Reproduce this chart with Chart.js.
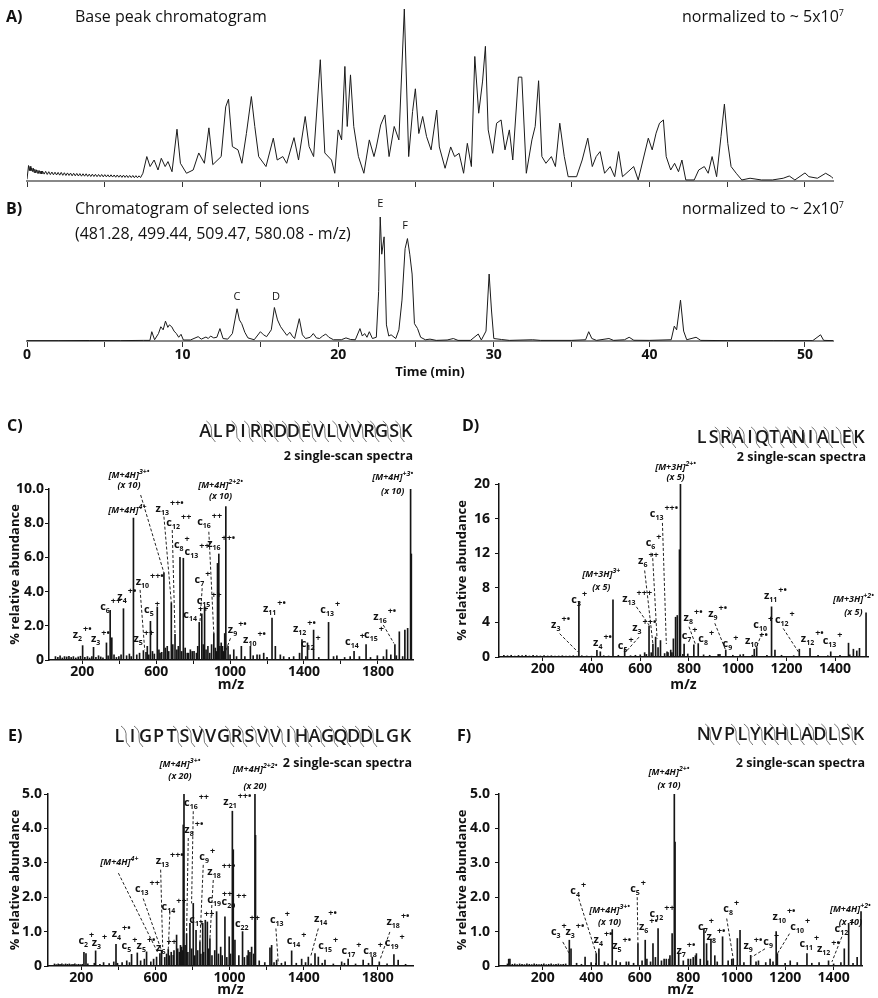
<!DOCTYPE html>
<html>
<head>
<meta charset="utf-8">
<script src="https://cdn.jsdelivr.net/npm/chart.js@4"></script>
<style>
  body { margin: 0; background: #fff; }
  #page { position: relative; width: 878px; height: 998px; overflow: hidden; font-family: "Open Sans", sans-serif; color: #111; }
  canvas { position: absolute; }
  .t { position: absolute; white-space: nowrap; line-height: 1; transform: translateY(-50%); }
  .pl { font-weight: bold; font-size: 16px; }
  .hd { font-size: 16px; }
  .ss { font-weight: bold; font-size: 12.5px; }
  sup { font-size: 9px; }
</style>
</head>
<body>
<div id="page">
  <canvas id="cA" width="878" height="195" style="left:0px;top:0px"></canvas>
  <canvas id="cB" width="878" height="185" style="left:0px;top:195px"></canvas>
  <canvas id="cC" width="440" height="295" style="left:0px;top:400px"></canvas>
  <canvas id="cD" width="438" height="295" style="left:440px;top:400px"></canvas>
  <canvas id="cE" width="440" height="298" style="left:0px;top:700px"></canvas>
  <canvas id="cF" width="438" height="298" style="left:440px;top:700px"></canvas>

  <div class="t pl" style="left:6px;top:16px">A)</div>
  <div class="t hd" style="left:75px;top:16px">Base peak chromatogram</div>
  <div class="t hd" style="right:34px;top:16px">normalized to ~ 5x10<sup>7</sup></div>
  <div class="t pl" style="left:6px;top:208px">B)</div>
  <div class="t hd" style="left:75px;top:208px">Chromatogram of selected ions</div>
  <div class="t hd" style="left:75px;top:233px">(481.28, 499.44, 509.47, 580.08 - m/z)</div>
  <div class="t hd" style="right:34px;top:208px">normalized to ~ 2x10<sup>7</sup></div>

  <div class="t pl" style="left:7px;top:425px">C)</div>
  <div class="t ss" style="right:465px;top:456px">2 single-scan spectra</div>
  <div class="t pl" style="left:462px;top:425px">D)</div>
  <div class="t ss" style="right:12px;top:457px">2 single-scan spectra</div>
  <div class="t pl" style="left:8px;top:735px">E)</div>
  <div class="t ss" style="right:466px;top:763px">2 single-scan spectra</div>
  <div class="t pl" style="left:457px;top:735px">F)</div>
  <div class="t ss" style="right:13px;top:763px">2 single-scan spectra</div>
</div>

<script>
const FONT = '"Open Sans", sans-serif';
Chart.defaults.font.family = FONT;
Chart.defaults.color = "#111";

// ---- chromatograms: [time (min), % of max] ----
const timeTicks = [0, 5, 10, 15, 20, 25, 30, 35, 40, 45, 50];

const aEarly = [
  [0.0, 1], [0.1, 9], [0.15, 6], [0.2, 8.5], [0.25, 6], [0.3, 7.5], [0.35, 5.5], [0.4, 7.5], [0.45, 5], [0.5, 6.8],
  [0.55, 4.8], [0.6, 6.5], [0.65, 4.6], [0.7, 6.2], [0.75, 4.4], [0.8, 6], [0.85, 4.2], [0.9, 5.8], [0.95, 4.1],
  [1.0, 5.7], [1.1, 4], [1.2, 5.6], [1.3, 3.8], [1.4, 5.4], [1.5, 3.7], [1.6, 5.2], [1.7, 3.6], [1.8, 5.1], [1.9, 3.5],
  [2.0, 5], [2.1, 3.4], [2.2, 5], [2.3, 3.3], [2.4, 4.8], [2.5, 3.2], [2.6, 4.7], [2.7, 3.2], [2.8, 4.6], [2.9, 3],
  [3.0, 4.5], [3.1, 3], [3.2, 4.4], [3.3, 2.9], [3.4, 4.3], [3.5, 2.8], [3.6, 4.2], [3.7, 2.8], [3.8, 4.2], [3.9, 2.7],
  [4.0, 4], [4.1, 2.6], [4.2, 4], [4.3, 2.6], [4.4, 3.9], [4.5, 2.5], [4.6, 3.8], [4.7, 2.5], [4.8, 3.8], [4.9, 2.4],
  [5.0, 3.7], [5.1, 2.4], [5.2, 3.6], [5.3, 2.3], [5.4, 3.6], [5.5, 2.3], [5.6, 3.5], [5.7, 2.2], [5.8, 3.5], [5.9, 2.2],
  [6.0, 3.4], [6.1, 2.1], [6.2, 3.4], [6.3, 2.1], [6.4, 3.3], [6.5, 2], [6.6, 3.2], [6.7, 2], [6.8, 3.2], [6.9, 1.9],
  [7.0, 3.1], [7.1, 1.9], [7.2, 3], [7.3, 2]
];

const aMain = [
  [7.45, 4.5], [7.7, 14.2], [7.91, 8.4], [8.17, 12.2], [8.42, 6.4], [8.63, 13.2], [8.88, 8.4], [9.06, 11.3], [9.32, 5.4],
  [9.64, 30.1], [9.86, 10.3], [10.25, 4.5], [10.68, 6.4], [11.04, 16.3], [11.4, 10.3], [11.69, 30.9], [11.94, 9.5],
  [12.48, 14.2], [12.77, 43.1], [12.95, 47.6], [13.2, 20], [13.56, 18.1], [13.81, 10.3], [14.1, 27.6], [14.42, 49.1],
  [14.64, 31.7], [14.89, 14.2], [15.36, 8.4], [15.83, 24.9], [16.08, 12.2], [16.44, 14.2], [16.69, 10.3], [17.16, 25.2],
  [17.45, 12.2], [17.88, 37.5], [18.13, 20], [18.42, 14.2], [18.85, 70.5], [19.14, 16.3], [19.57, 12.2], [19.78, 4.5],
  [20.0, 29.7], [20.22, 23.9], [20.43, 66.6], [20.58, 31.7], [20.79, 61.7], [21.0, 31.7], [21.3, 14.2], [21.65, 4.5],
  [22.0, 23.9], [22.3, 14.2], [22.45, 19.8], [22.73, 32.6], [23.0, 38.4], [23.27, 14.2], [23.6, 31.7], [23.9, 23.9],
  [24.25, 100], [24.53, 14.2], [24.78, 40.4], [24.96, 53.6], [25.18, 27.6], [25.43, 37.5], [25.68, 25.8], [25.97, 18.1],
  [26.33, 41.2], [26.5, 19.8], [26.87, 7.4], [27.23, 19.8], [27.48, 14.2], [27.77, 16.1], [28.06, 4.5], [28.3, 21.9],
  [28.56, 8.4], [28.78, 72.4], [29.03, 39.4], [29.28, 58.1], [29.46, 78.3], [29.64, 29.7], [29.93, 16.1], [30.18, 33.6],
  [30.47, 35.5], [30.72, 18.1], [31.0, 29.7], [31.22, 12.2], [31.58, 60.4], [31.8, 60.4], [32.09, 4.5], [32.45, 23.9],
  [32.66, 31.7], [32.88, 58.3], [33.09, 14.2], [33.35, 10.3], [33.7, 14.2], [33.96, 8.4], [34.24, 33.6], [34.53, 14.2],
  [34.78, 2.5], [35.32, 2.5], [35.68, 12.2], [36.04, 24.9], [36.33, 8.4], [36.58, 14.2], [36.83, 17.1], [37.12, 4.5],
  [37.48, 8.4], [37.77, 2.5], [38.02, 17.1], [38.27, 2.5], [38.63, 5.4], [38.99, 8.4], [39.28, 0.6], [39.93, 24.9],
  [40.18, 18.1], [40.43, 27.8], [40.65, 33.6], [40.9, 35.5], [41.08, 14.2], [41.37, 6.4], [41.62, 10.3], [41.87, 5.4],
  [42.09, 12.2], [42.34, 0.6], [42.88, 0.6], [43.17, 6.4], [43.53, 8.4], [43.78, 4.5], [44.03, 14.2], [44.32, 2.5],
  [44.6, 25.8], [44.82, 44.7], [45.04, 21.9], [45.25, 8.4], [45.58, 4.5], [45.94, 0.6], [46.47, 1.6], [47.2, 0.6],
  [47.9, 0.6], [48.6, 1.6], [48.99, 2.9], [49.35, 0.6], [50.0, 4.7], [50.25, 2.5], [50.8, 1.6], [51.33, 4.5],
  [51.7, 2.5], [51.9, 0.6]
];

const bTrace = [
  [0, 0.3], [2, 0.3], [4, 0.4], [6, 0.3], [7.5, 0.5], [7.9, 0.5], [8.02, 7.5], [8.2, 1], [8.45, 6], [8.6, 11.5],
  [8.75, 9], [8.9, 16], [9.05, 11], [9.15, 13], [9.3, 11.5], [9.45, 8], [9.6, 6], [9.75, 3], [9.9, 5.4], [10.05, 0.8],
  [10.5, 0.8], [11.0, 3.5], [11.2, 1.5], [11.5, 3.2], [11.65, 2], [11.8, 4], [12.0, 2.5], [12.2, 3], [12.4, 10],
  [12.6, 2], [12.9, 1.5], [13.2, 6], [13.5, 26], [13.65, 17], [13.8, 14], [14.0, 7], [14.2, 2.5], [14.6, 1], [15.0, 7.5],
  [15.2, 5], [15.4, 3.5], [15.7, 9], [15.9, 27], [16.1, 17], [16.3, 11.5], [16.5, 8], [16.7, 4.5], [16.9, 7], [17.05, 4],
  [17.2, 2], [17.5, 18], [17.7, 5], [17.9, 2], [18.2, 3], [18.4, 6], [18.6, 2.5], [18.8, 2], [19.0, 4], [19.2, 5.6],
  [19.4, 3], [19.7, 1], [20.2, 1], [20.5, 2.5], [20.8, 1.2], [21.1, 1], [21.4, 10], [21.55, 4], [21.7, 6], [21.85, 3],
  [22.0, 7.5], [22.2, 2], [22.45, 3], [22.6, 40], [22.7, 100], [22.8, 70], [22.95, 84], [23.1, 13], [23.25, 4], [23.4, 5],
  [23.7, 2], [23.9, 9], [24.1, 33], [24.3, 74.5], [24.45, 82.6], [24.6, 70], [24.75, 54], [24.9, 14], [25.1, 10],
  [25.3, 3], [25.6, 1], [25.9, 1.5], [26.3, 0.5], [27.0, 0.8], [27.4, 2], [27.7, 0.5], [28.5, 0.5], [29.0, 5.6],
  [29.2, 0.8], [29.5, 8], [29.7, 54], [29.85, 25], [30.0, 2], [30.5, 1.2], [31, 0.5], [32.5, 1], [33, 0.5], [35, 0.5],
  [35.9, 1], [36.1, 7.5], [36.3, 2], [36.6, 0.5], [37.4, 2], [37.7, 0.5], [38.4, 1], [38.7, 3], [39.0, 0.6], [40, 0.5],
  [41.4, 1], [41.6, 12], [41.75, 9], [42.0, 33], [42.2, 8], [42.4, 1], [43.0, 3], [43.3, 0.5], [45, 0.3], [48, 0.3],
  [50.5, 0.3], [51.0, 5], [51.2, 0.5], [51.8, 0.3]
];

const bMarks = [[13.5, 33, "C"], [16.0, 33, "D"], [22.7, 108, "E"], [24.3, 90, "F"]];

// ---- spectra: [m/z, % relative abundance] ----
const cPeaks = [
  [202, 0.84], [261, 0.74], [331, 1.0], [351, 2.9], [360, 1.3], [423, 3.0], [477, 8.3], [531, 0.55], [552, 0.8],
  [569, 2.26], [606, 3.1], [621, 0.4], [642, 5.1], [660, 0.8], [682, 3.35], [702, 1.5], [729, 6.0], [747, 5.95],
  [768, 0.4], [795, 0.5], [833, 2.2], [847, 2.7], [862, 3.1], [880, 0.8], [912, 1.55], [932, 5.65], [939, 6.2],
  [959, 0.8], [971, 1.55], [977, 8.97], [989, 0.8], [1020, 0.6], [1061, 0.8], [1110, 0.8], [1146, 0.3], [1182, 0.4],
  [1227, 2.45], [1245, 0.8], [1272, 0.3], [1344, 0.2], [1376, 0.4], [1389, 1.2], [1419, 1.0], [1452, 1.75],
  [1533, 2.2], [1578, 0.25], [1650, 0.2], [1671, 0.5], [1736, 0.9], [1797, 0.25], [1847, 0.6], [1892, 0.9],
  [1916, 1.65], [1934, 0.2], [1946, 1.75], [1961, 1.85], [1977, 10.0], [1981, 6.2]
];
const cNoise = [
  [55, .2], [68, .15], [80, .25], [92, .12], [104, .2], [116, .18], [128, .22], [140, .15], [152, .2], [165, .12],
  [178, .18], [190, .22], [214, .15], [228, .2], [240, .12], [252, .2], [274, .15], [288, .25], [300, .18], [312, .12],
  [340, .25], [372, .3], [385, .15], [398, .2], [410, .3], [440, .25], [455, .35], [465, .2], [495, .3], [510, .4],
  [545, .45], [560, .3], [580, .5], [590, .35], [615, .6], [630, .45], [650, .7], [668, .5], [690, .9], [712, .6],
  [720, .8], [738, .5], [757, .7], [775, .4], [785, .6], [805, .5], [818, .4], [825, .8], [855, .9], [870, .6],
  [890, .4], [900, .9], [920, .7], [925, .5], [945, .8], [952, 1.0], [965, .5], [1000, .3], [1035, .2], [1080, .2],
  [1125, .25], [1160, .3], [1200, .15], [1290, .2], [1320, .15], [1410, .2], [1480, .15], [1560, .2], [1620, .15],
  [1700, .2], [1760, .15], [1830, .2], [1870, .3], [1900, .25]
];
const cIons = [
  [148, 1.27, "z", "2", "+•"], [247, 1.07, "z", "3", "+•"], [297, 2.92, "c", "6", "++"], [390, 3.5, "z", "4", "+•"],
  [477, 1.07, "z", "5", "++"], [489, 4.39, "z", "10", "++•"], [534, 2.73, "c", "5", "+"], [597, 8.67, "z", "13", "++•"],
  [655, 7.84, "c", "12", "++"], [696, 6.53, "c", "8", "+"], [754, 6.14, "c", "13", "++"], [747, 2.44, "c", "14", "++"],
  [808, 4.48, "c", "7", "+"], [819, 3.3, "c", "15", "++"], [822, 7.9, "c", "16", "++"], [876, 6.63, "z", "16", "++•"],
  [988, 1.56, "z", "9", "+•"], [1070, 0.97, "z", "10", "+•"], [1178, 2.83, "z", "11", "+•"], [1340, 1.66, "z", "12", "+•"],
  [1383, 0.78, "c", "12", "+"], [1488, 2.73, "c", "13", "+"], [1622, 0.88, "c", "14", "+"], [1725, 1.27, "c", "15", "+"],
  [1775, 2.34, "z", "16", "+•"]
];
const cMions = [
  [444, 8.58, null, "4+", ""], [453, 10.66, 10.04, "3+•", "(x 10)"],
  [948, 10.08, 9.4, "2+2•", "(x 10)"], [1880, 10.53, 9.69, "+3•", "(x 10)"]
];
const cLeaders = [
  [516, 9.65, 642, 5.1], [642, 8.38, 682, 3.35], [687, 7.6, 702, 1.5], [885, 7.5, 912, 1.55],
  [849, 4.2, 837, 2.24], [513, 4.1, 538, 0.58], [1002, 1.27, 977, 0.55], [1829, 2.05, 1887, 0.97]
];

const dPeaks = [
  [348, 6.4], [422, 0.76], [436, 0.6], [488, 6.6], [536, 0.95], [618, 0.5], [636, 3.6], [652, 1.5], [663, 2.3],
  [673, 1.1], [683, 1.9], [714, 0.5], [725, 0.8], [736, 2.1], [745, 4.6], [752, 4.8], [761, 12.4], [765, 20],
  [780, 1.5], [820, 1.4], [838, 1.55], [927, 0.3], [951, 0.8], [1023, 0.3], [1068, 0.9], [1078, 1.1], [1139, 5.8],
  [1153, 0.8], [1253, 0.9], [1297, 1.0], [1382, 0.6], [1455, 1.6], [1475, 0.9], [1489, 0.7], [1500, 1.0], [1527, 5.1]
];
const dNoise = [
  [40, .2], [55, .15], [70, .2], [85, .12], [100, .18], [115, .15], [130, .2], [145, .12], [160, .18], [175, .15],
  [190, .12], [205, .15], [220, .12], [235, .15], [250, .1], [265, .12], [280, .15], [295, .1], [310, .12], [325, .15],
  [340, .1], [360, .15], [380, .12], [400, .1], [450, .15], [470, .12], [510, .2], [560, .15], [580, .2], [600, .25],
  [625, .3], [645, .5], [700, .4], [710, .6], [730, .5], [775, .3], [795, .35], [860, .25], [885, .2], [920, .3],
  [980, .2], [1010, .25], [1060, .2], [1120, .2], [1180, .2], [1230, .15], [1330, .2], [1370, .15], [1420, .2], [1460, .25]
];
const dIons = [
  [317, 6.27, "c", "3", "+"], [234, 3.3, "z", "3", "+•"], [406, 1.24, "z", "4", "+•"], [508, 0.97, "c", "5", "+"],
  [567, 3.0, "z", "3", "++•"], [526, 6.4, "z", "13", "+++"], [591, 10.7, "z", "6", "++"], [622, 12.8, "c", "6", "+"],
  [639, 16.2, "c", "13", "++•"], [778, 4.2, "z", "8", "+•"], [770, 2.1, "c", "7", "+"], [838, 1.75, "c", "8", "+"],
  [879, 4.6, "z", "9", "+•"], [938, 1.16, "c", "9", "+"], [1030, 1.55, "z", "10", "+•"], [1064, 3.3, "c", "10", "+"],
  [1108, 6.7, "z", "11", "+•"], [1153, 3.95, "c", "12", "+"], [1259, 1.74, "z", "12", "+•"], [1349, 1.55, "c", "13", "+"]
];
const dMions = [
  [440, 9.3, 7.7, "3+", "(x 5)"], [745, 21.6, 20.5, "2+•", "(x 5)"], [1475, 6.4, 4.8, "+2•", "(x 5)"]
];
const dLeaders = [
  [269, 2.7, 344, 0.58], [595, 2.3, 540, 0.58], [584, 5.8, 636, 3.7], [618, 10, 652, 1.5], [650, 12, 669, 2.1],
  [691, 15.5, 707, 1.5], [800, 3.5, 828, 1.35], [906, 3.9, 951, 0.77], [1098, 2.7, 1078, 1.16], [1187, 3.3, 1249, 0.6]
];

const ePeaks = [
  [214, 0.4], [225, 0.36], [277, 0.44], [387, 0.63], [471, 0.34], [502, 0.38], [552, 0.41], [606, 0.26], [624, 0.36],
  [633, 0.46], [669, 0.48], [696, 0.31], [714, 0.9], [729, 0.4], [741, 0.55], [750, 4.1], [754, 5.22], [768, 0.94],
  [786, 1.24], [804, 1.82], [819, 1.04], [840, 0.7], [855, 1.24], [869, 1.33], [880, 1.28], [894, 0.8], [930, 1.58],
  [952, 0.55], [975, 1.43], [998, 0.85], [1015, 4.5], [1020, 3.38], [1029, 0.75], [1070, 1.0], [1101, 0.45],
  [1119, 0.55], [1137, 5.0], [1140, 3.8], [1218, 0.53], [1227, 0.6], [1254, 0.17], [1335, 0.44], [1389, 0.2],
  [1425, 0.26], [1461, 0.36], [1479, 0.26], [1515, 0.17], [1605, 0.12], [1640, 0.2], [1721, 0.17], [1770, 0.26],
  [1808, 0.12], [1887, 0.33], [1910, 0.17]
];
const eNoise = [
  [55, .06], [65, .04], [75, .06], [85, .05], [95, .06], [105, .04], [115, .06], [125, .05], [135, .06], [145, .04],
  [155, .05], [165, .06], [175, .04], [185, .05], [195, .04], [205, .05], [235, .06], [270, .08], [300, .05], [320, .1],
  [350, .07], [375, .12], [395, .08], [420, .1], [445, .15], [460, .1], [520, .15], [540, .2], [575, .12], [590, .2],
  [650, .25], [660, .35], [675, .3], [685, .4], [700, .45], [720, .5], [735, .6], [745, .45], [760, .6], [775, .4],
  [795, .5], [812, .3], [828, .45], [845, .35], [860, .4], [888, .5], [905, .3], [920, .45], [940, .35], [960, .3],
  [985, .25], [1005, .35], [1050, .3], [1080, .25], [1095, .3], [1110, .4], [1130, .35], [1160, .15], [1190, .1],
  [1240, .1], [1280, .08], [1300, .12], [1360, .08], [1410, .1], [1440, .06], [1500, .08], [1560, .06], [1620, .08],
  [1680, .06], [1750, .08], [1850, .06], [1950, .05]
];
const eIons = [
  [184, 0.65, "c", "2", "+"], [256, 0.57, "z", "3", "+"], [364, 0.85, "z", "4", "+•"], [417, 0.5, "c", "5", "+"],
  [498, 0.5, "z", "5", "+•"], [603, 0.44, "z", "6", "++"], [489, 2.16, "c", "13", "++"], [601, 2.97, "z", "13", "++•"],
  [633, 1.64, "c", "14", "++"], [754, 4.66, "c", "16", "++"], [756, 3.88, "z", "8", "+•"], [783, 1.24, "c", "17", "++"],
  [837, 3.08, "c", "9", "+"], [880, 2.65, "z", "18", "++•"], [880, 1.82, "c", "19", "++"], [957, 1.77, "c", "20", "++"],
  [966, 4.69, "z", "21", "++•"], [1029, 1.14, "c", "22", "++"], [1218, 1.25, "c", "13", "+"], [1308, 0.65, "c", "14", "+"],
  [1455, 1.28, "z", "14", "+•"], [1479, 0.48, "c", "15", "+"], [1604, 0.36, "c", "17", "+"], [1721, 0.36, "c", "18", "+"],
  [1847, 1.19, "z", "18", "+•"], [1838, 0.57, "c", "19", "+"]
];
const eMions = [
  [405, 2.94, null, "4+", ""], [732, 5.79, 5.44, "3+•", "(x 20)"], [1137, 5.64, 5.15, "2+2•", "(x 20)"]
];
const eLeaders = [
  [400, 2.7, 615, 0.36], [534, 1.96, 633, 0.44], [628, 2.8, 639, 0.55], [678, 1.58, 669, 0.48], [804, 4.5, 795, 1.82],
  [777, 3.72, 768, 0.94], [858, 2.94, 840, 0.7], [912, 2.5, 894, 0.8], [1250, 1.09, 1263, 0.07], [1479, 1.09, 1437, 0.26],
  [1865, 0.99, 1811, 0.17]
];

const fPeaks = [
  [60, 0.2], [310, 0.75], [317, 0.5], [375, 0.26], [421, 0.36], [432, 0.5], [487, 1.06], [503, 0.15], [545, 0.12],
  [593, 0.65], [623, 0.75], [655, 0.65], [676, 1.09], [701, 0.2], [721, 0.2], [734, 0.94], [743, 5.0], [746, 3.6],
  [761, 0.36], [800, 0.2], [821, 0.25], [834, 0.36], [865, 1.09], [876, 0.65], [894, 0.78], [910, 0.3], [942, 0.85],
  [986, 0.2], [1003, 0.8], [1014, 1.04], [1058, 0.31], [1090, 0.15], [1138, 0.2], [1163, 1.0], [1168, 0.36],
  [1221, 0.15], [1290, 0.36], [1379, 0.15], [1444, 0.5], [1462, 1.24], [1497, 0.25], [1513, 1.58]
];
const fNoise = [
  [55, .06], [65, .2], [75, .05], [85, .06], [95, .04], [105, .06], [115, .05], [125, .04], [135, .06], [145, .05],
  [155, .04], [165, .06], [175, .05], [185, .04], [195, .05], [205, .06], [215, .04], [225, .05], [235, .06], [245, .04],
  [255, .05], [265, .06], [275, .04], [285, .05], [295, .06], [340, .08], [360, .05], [400, .1], [420, .08], [455, .12],
  [470, .06], [520, .1], [555, .12], [575, .08], [610, .15], [630, .2], [645, .12], [665, .25], [690, .15], [710, .2],
  [725, .3], [780, .15], [810, .2], [830, .3], [850, .2], [880, .15], [920, .12], [965, .15], [980, .2], [1030, .1],
  [1080, .12], [1120, .1], [1150, .12], [1200, .08], [1250, .1], [1310, .08], [1340, .1], [1400, .06], [1430, .1], [1480, .08]
];
const fIons = [
  [234, 0.9, "c", "3", "+"], [294, 0.9, "z", "3", "+•"], [314, 2.1, "c", "4", "+"], [410, 0.67, "z", "4", "+•"],
  [487, 0.5, "z", "5", "+•"], [561, 2.16, "c", "5", "+"], [597, 1.04, "z", "6", "+•"], [641, 1.43, "c", "12", "++"],
  [752, 0.36, "z", "7", "+•"], [841, 1.06, "c", "7", "+"], [876, 0.77, "z", "8", "+•"], [945, 1.58, "c", "8", "+"],
  [1028, 0.5, "z", "9", "+•"], [1110, 0.6, "c", "9", "+"], [1148, 1.33, "z", "10", "+•"], [1221, 1.06, "c", "10", "+"],
  [1259, 0.55, "c", "11", "+"], [1331, 0.41, "z", "12", "+•"], [1404, 0.99, "c", "12", "+"]
];
const fMions = [
  [476, 1.55, 1.19, "3+•", "(x 10)"], [721, 5.56, 5.17, "2+•", "(x 10)"], [1469, 1.58, 1.19, "+2•", "(x 10)"]
];
const fLeaders = [
  [283, 0.7, 310, 0.36], [349, 1.96, 421, 0.36], [590, 2.0, 593, 0.65], [959, 1.38, 986, 0.21],
  [1117, 0.5, 1062, 0.26], [1218, 0.94, 1168, 0.36], [1434, 0.85, 1393, 0.12]
];

// peptide sequences, '1' marks a c/z cleavage between neighbouring residues
const cSeq = "ALPIRRDDEVLVVRGSK", cCuts = "1011111111111111";
const dSeq = "LSRAIQTANIALEK", dCuts = "0111111111111";
const eSeq = "LIGPTSVVGRSVVIHAGQDDLGK", eCuts = "1100111011111111111100";
const fSeq = "NVPLYKHLADLSK", fCuts = "101111111111";

const toXY = (pairs) => pairs.map(([x, y]) => ({ x, y }));

// draws ion labels, dashed leader lines, peptide sequence
const annotPlugin = (p) => ({
  id: "annot",
  afterDatasetsDraw(chart) {
    const { ctx } = chart;
    const x = chart.scales.x, y = chart.scales.y;
    ctx.save();
    ctx.fillStyle = "#111";
    ctx.strokeStyle = "#222";
    ctx.lineWidth = 1;
    ctx.textBaseline = "alphabetic";

    ctx.setLineDash([3, 2]);
    (p.leaders || []).forEach(([m1, i1, m2, i2]) => {
      ctx.beginPath();
      ctx.moveTo(x.getPixelForValue(m1), y.getPixelForValue(i1));
      ctx.lineTo(x.getPixelForValue(m2), y.getPixelForValue(i2));
      ctx.stroke();
    });
    ctx.setLineDash([]);

    ctx.textAlign = "left";
    (p.ions || []).forEach(([m, i, main, sub, sup]) => {
      const px = x.getPixelForValue(m), py = y.getPixelForValue(i);
      ctx.font = "bold 11px " + FONT;
      ctx.fillText(main, px, py);
      const w = ctx.measureText(main).width;
      ctx.font = "bold 7px " + FONT;
      ctx.fillText(sub, px + w, py + 3);
      const ws = ctx.measureText(sub).width;
      ctx.font = "bold 9px " + FONT;
      ctx.fillText(sup, px + w + ws + 1, py - 6);
    });

    (p.mions || []).forEach(([m, i1, i2, chg, mult]) => {
      const px = x.getPixelForValue(m);
      ctx.font = "italic bold 9px " + FONT;
      const w1 = ctx.measureText(p.name).width;
      ctx.font = "italic bold 7px " + FONT;
      const w2 = ctx.measureText(chg).width;
      const left = px - (w1 + w2) / 2;
      ctx.textAlign = "left";
      ctx.font = "italic bold 9px " + FONT;
      ctx.fillText(p.name, left, y.getPixelForValue(i1));
      ctx.font = "italic bold 7px " + FONT;
      ctx.fillText(chg, left + w1, y.getPixelForValue(i1) - 4);
      if (i2 !== null) {
        ctx.font = "italic bold 9px " + FONT;
        ctx.textAlign = "center";
        ctx.fillText(mult, px, y.getPixelForValue(i2));
      }
    });

    (p.marks || []).forEach(([t, i, s]) => {
      ctx.font = "11px " + FONT;
      ctx.textAlign = "center";
      ctx.fillText(s, x.getPixelForValue(t), y.getPixelForValue(i));
    });

    if (p.seq) {
      const { text, cuts, right, cy, pitch } = p.seq;
      const x0 = right - pitch * text.length + pitch / 2;
      ctx.font = "600 18px " + FONT;
      ctx.textAlign = "center";
      ctx.textBaseline = "middle";
      ctx.fillStyle = "#1a1a1a";
      for (let k = 0; k < text.length; k++) ctx.fillText(text[k], x0 + k * pitch, cy);
      ctx.strokeStyle = "#666";
      ctx.lineWidth = 0.9;
      for (let k = 0; k < cuts.length; k++) {
        if (cuts[k] !== "1") continue;
        const gx = x0 + (k + 0.5) * pitch;
        ctx.beginPath();
        ctx.moveTo(gx - 5, cy - 11);
        ctx.quadraticCurveTo(gx + 1, cy - 7, gx, cy);
        ctx.quadraticCurveTo(gx - 1, cy + 6, gx + 4, cy + 10);
        ctx.stroke();
      }
    }
    ctx.restore();
  }
});

function chromatogram(id, pts, opts) {
  return new Chart(document.getElementById(id), {
    type: "line",
    data: {
      datasets: [{
        data: toXY(pts),
        borderColor: "#1a1a1a",
        borderWidth: 1,
        pointRadius: 0,
        tension: 0,
        fill: false,
      }],
    },
    options: {
      animation: false,
      responsive: false,
      layout: { padding: { left: 27, right: 45, top: opts.top, bottom: 0 } },
      plugins: { legend: { display: false }, tooltip: { enabled: false } },
      scales: {
        x: {
          type: "linear",
          min: 0,
          max: 51.8,
          afterBuildTicks: (s) => { s.ticks = timeTicks.map((v) => ({ value: v })); },
          afterFit: (s) => { s.height = opts.axisH; },
          ticks: {
            display: opts.labels,
            padding: 0,
            maxRotation: 0,
            autoSkip: false,
            font: { size: 14, weight: "bold" },
            callback: (v) => (v % 10 === 0 ? String(v) : ""),
          },
          grid: { drawOnChartArea: false, tickLength: 6, color: "#333" },
          border: { color: "#888", width: 2 },
          title: {
            display: opts.labels,
            text: "Time (min)",
            font: { size: 13, weight: "bold" },
            padding: 0,
          },
        },
        y: { display: false, min: 0, max: 100 },
      },
    },
    plugins: [annotPlugin({ marks: opts.marks })],
  });
}

function spectrum(id, s) {
  return new Chart(document.getElementById(id), {
    type: "bar",
    data: {
      datasets: [{
        data: toXY(s.noise.concat(s.peaks)),
        backgroundColor: "#151515",
        barThickness: 1,
      }],
    },
    options: {
      animation: false,
      responsive: false,
      layout: { padding: { left: 0, right: s.padR, top: s.padT, bottom: 0 } },
      plugins: { legend: { display: false }, tooltip: { enabled: false } },
      scales: {
        x: {
          type: "linear",
          min: 20,
          max: s.xMax,
          offset: false,
          afterBuildTicks: (sc) => { sc.ticks = s.xTicks.map((v) => ({ value: v })); },
          afterFit: (sc) => { sc.height = s.axisH; },
          ticks: {
            padding: 0,
            maxRotation: 0,
            autoSkip: false,
            font: { size: 14, weight: "bold" },
            callback: (v) => (s.xLabels.includes(v) ? String(v) : ""),
          },
          grid: { drawOnChartArea: false, offset: false, tickLength: 4, color: "#111" },
          border: { color: "#111", width: 1.5 },
          title: {
            display: true,
            text: "m/z",
            font: { size: 14, weight: "bold" },
            padding: { top: 0, bottom: s.xTitlePad },
          },
        },
        y: {
          min: 0,
          max: s.yMax,
          afterBuildTicks: (sc) => { sc.ticks = s.yTicks.map((v) => ({ value: v })); },
          afterFit: (sc) => { sc.width = s.axisW; },
          ticks: {
            padding: s.yTickPad,
            font: { size: 14, weight: "bold" },
            callback: (v) => (v === 0 ? "0" : s.yDec ? v.toFixed(1) : String(v)),
          },
          grid: { drawOnChartArea: false, tickLength: 4, color: "#111" },
          border: { color: "#111", width: 1.5 },
          title: {
            display: true,
            text: "% relative abundance",
            font: { size: 13, weight: "bold" },
            padding: { top: s.yTitlePad, bottom: 0 },
          },
        },
      },
    },
    plugins: [annotPlugin(s)],
  });
}

chromatogram("cA", aEarly.concat(aMain), { top: 9, axisH: 14, labels: false, marks: [] });
chromatogram("cB", bTrace, { top: 22, axisH: 39, labels: true, marks: bMarks });

const wideTicks = [200, 400, 600, 800, 1000, 1200, 1400, 1600, 1800];
const wideLabels = [200, 600, 1000, 1400, 1800];
const narrowTicks = [200, 400, 600, 800, 1000, 1200, 1400];

spectrum("cC", {
  peaks: cPeaks, noise: cNoise, ions: cIons, mions: cMions, leaders: cLeaders, name: "[M+4H]",
  seq: { text: cSeq, cuts: cCuts, right: 413, cy: 32, pitch: 12.6 },
  xMax: 1990, xTicks: wideTicks, xLabels: wideLabels, yMax: 10, yTicks: [0, 2, 4, 6, 8, 10], yDec: true,
  padR: 27, padT: 89, axisW: 49, axisH: 35, yTitlePad: 7, yTickPad: 1, xTitlePad: 2,
});
spectrum("cD", {
  peaks: dPeaks, noise: dNoise, ions: dIons, mions: dMions, leaders: dLeaders, name: "[M+3H]",
  seq: { text: dSeq, cuts: dCuts, right: 425, cy: 38, pitch: 12.1 },
  xMax: 1535, xTicks: narrowTicks, xLabels: narrowTicks, yMax: 20, yTicks: [0, 4, 8, 12, 16, 20], yDec: false,
  padR: 10, padT: 84, axisW: 59, axisH: 38, yTitlePad: 14, yTickPad: 5, xTitlePad: 2,
});
spectrum("cE", {
  peaks: ePeaks, noise: eNoise, ions: eIons, mions: eMions, leaders: eLeaders, name: "[M+4H]",
  seq: { text: eSeq, cuts: eCuts, right: 412, cy: 37, pitch: 13 },
  xMax: 1990, xTicks: wideTicks, xLabels: wideLabels, yMax: 5, yTicks: [0, 1, 2, 3, 4, 5], yDec: true,
  padR: 27, padT: 94, axisW: 48, axisH: 32, yTitlePad: 7, yTickPad: 2, xTitlePad: 0,
});
spectrum("cF", {
  peaks: fPeaks, noise: fNoise, ions: fIons, mions: fMions, leaders: fLeaders, name: "[M+4H]",
  seq: { text: fSeq, cuts: fCuts, right: 425, cy: 35, pitch: 12.9 },
  xMax: 1517, xTicks: narrowTicks, xLabels: narrowTicks, yMax: 5, yTicks: [0, 1, 2, 3, 4, 5], yDec: true,
  padR: 16, padT: 94, axisW: 59, axisH: 32, yTitlePad: 14, yTickPad: 5, xTitlePad: 0,
});
</script>
</body>
</html>
